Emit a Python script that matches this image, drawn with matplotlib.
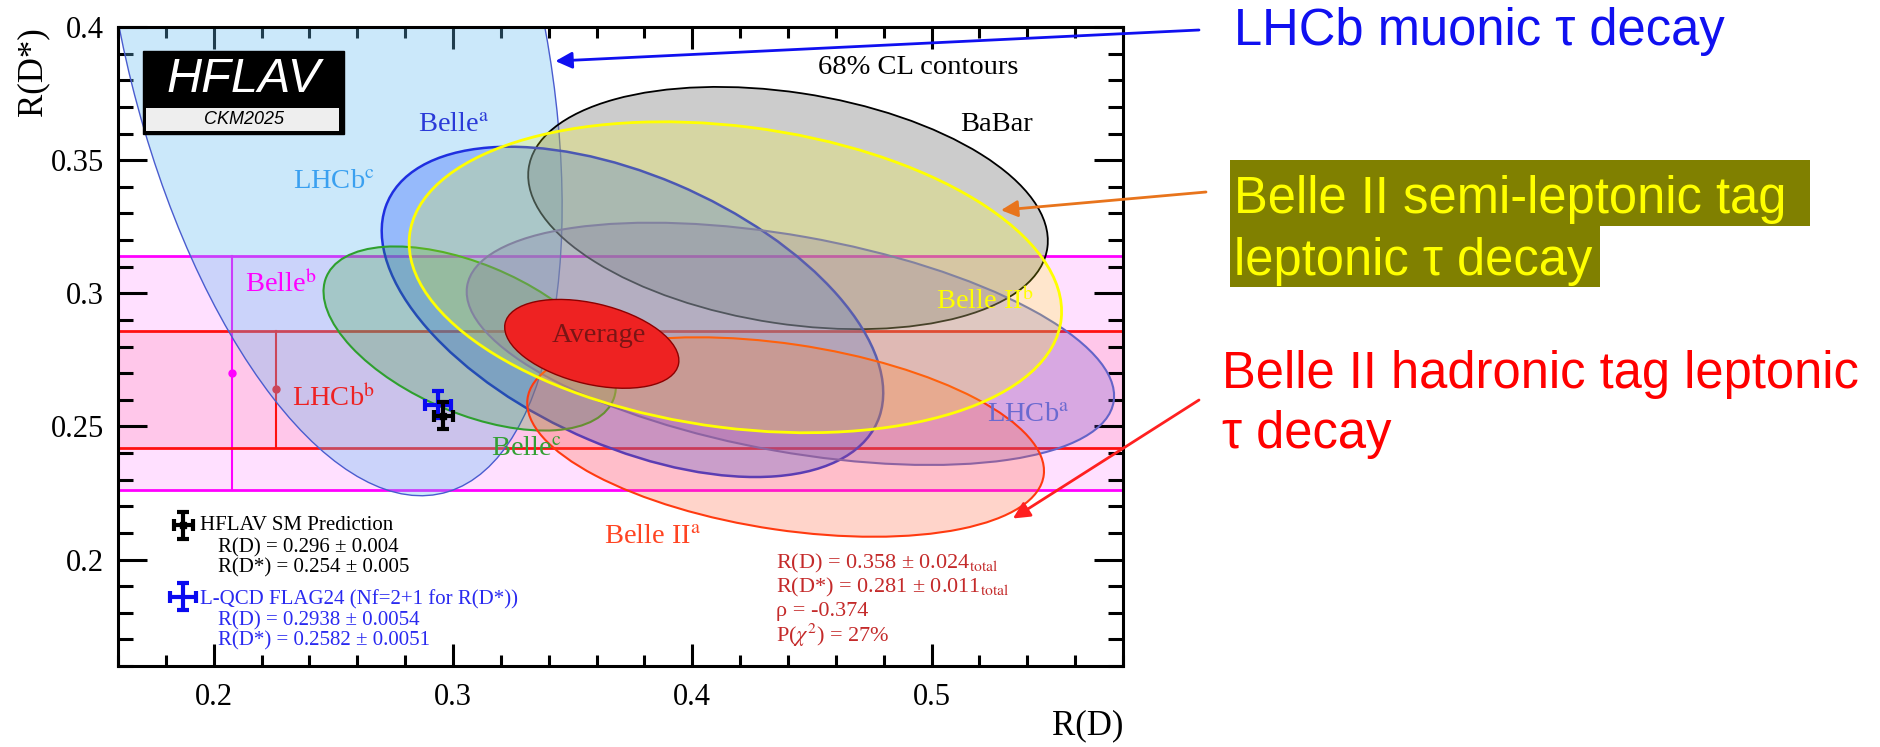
import numpy as np
import matplotlib
matplotlib.use('Agg')
import matplotlib.pyplot as plt
from matplotlib.patches import Ellipse, Rectangle
from matplotlib.ticker import MultipleLocator, FuncFormatter

plt.rcParams['font.family'] = ['Liberation Serif', 'DejaVu Serif']
plt.rcParams['mathtext.fontset'] = 'stix'

# 2D measurements: R(D), R(D*) with total errors and correlation
names = ['BaBar', 'Belle$^{\\rm a}$', 'Belle$^{\\rm c}$', 'LHCb$^{\\rm a}$',
         'LHCb$^{\\rm c}$', 'Belle II$^{\\rm a}$', 'Belle II$^{\\rm b}$']
rd = [0.440, 0.375, 0.307, 0.441, 0.249, 0.439, 0.418]
rd_err = [0.0716, 0.0691, 0.0403, 0.0892, 0.0637, 0.0712, 0.0899]
rds = [0.332, 0.293, 0.283, 0.281, 0.402, 0.246, 0.306]
rds_err = [0.0300, 0.0409, 0.0228, 0.0300, 0.1174, 0.0247, 0.0385]
rho = [-0.27, -0.49, -0.51, -0.43, -0.39, -0.34, -0.22]

# R(D*)-only measurements, drawn as bands
band_names = ['Belle$^{\\rm b}$', 'LHCb$^{\\rm b}$']
band_rds = [0.270, 0.264]
band_err = [0.044, 0.022]

# average
avg_rd, avg_rd_err = 0.358, 0.024
avg_rds, avg_rds_err = 0.281, 0.011
avg_rho = -0.374
avg_prob = 27

# SM predictions
sm_rd, sm_rd_err, sm_rds, sm_rds_err = 0.296, 0.004, 0.254, 0.005
lq_rd, lq_rd_err, lq_rds, lq_rds_err = 0.2938, 0.0054, 0.2582, 0.0051

K68 = np.sqrt(2.30)  # 68% CL, 2 dof

W, H = 1881, 747
fig = plt.figure(figsize=(W / 100, H / 100), dpi=100)


def fx(px):
    return px / W


def fy(py):
    return 1 - py / H


ax = fig.add_axes([fx(118), fy(666), (1123 - 118) / W, (666 - 27) / H])
ax.set_xlim(0.16, 0.58)
ax.set_ylim(0.16, 0.40)


def contour(x, sx, y, sy, r, **kw):
    cov = np.array([[sx**2, r * sx * sy], [r * sx * sy, sy**2]])
    vals, vecs = np.linalg.eigh(cov)
    ang = np.degrees(np.arctan2(vecs[1, 1], vecs[0, 1]))
    e = Ellipse((x, y), 2 * K68 * np.sqrt(vals[1]), 2 * K68 * np.sqrt(vals[0]),
                angle=ang, **kw)
    ax.add_patch(e)


# bands
band_fill = [(1, 0, 1, 0.12), (1, 0.23, 0.47, 0.15)]
band_line = ['#FF00FF', '#FF1010']
band_xpos = [0.2075, 0.226]
for v, err, fc, lc, xp in zip(band_rds, band_err, band_fill, band_line, band_xpos):
    ax.axhspan(v - err, v + err, color=fc, lw=0, zorder=1)
    ax.axhline(v - err, color=lc, lw=2, zorder=2)
    ax.axhline(v + err, color=lc, lw=2, zorder=2)
    ax.plot([xp, xp], [v - err, v + err], color=lc, lw=1.5, zorder=2)
    ax.plot(xp, v, 'o', color=lc, ms=5, zorder=2)

# 2D contours
face = [(0.5, 0.5, 0.5, 0.4), (0.2, 0.4, 1.0, 0.35), (0.2, 0.65, 0.2, 0.25),
        (0.4, 0.3, 0.8, 0.25), (0.39, 0.73, 0.94, 0.33), (1.0, 0.39, 0.24, 0.27),
        (1.0, 1.0, 0.0, 0.2)]
edge = ['black', '#1F2FE0', '#2EA02E', '#6464C8', '#4A5CCF', '#FF3A10', '#FFFF00']
lws = [1.3, 1.8, 1.5, 1.5, 1.0, 1.5, 2.0]
zs = [4, 4, 4, 4, 3, 4, 4]
for i in range(len(rd)):
    contour(rd[i], rd_err[i], rds[i], rds_err[i], rho[i],
            facecolor=face[i], edgecolor=edge[i], lw=lws[i], zorder=zs[i])

contour(avg_rd, avg_rd_err, avg_rds, avg_rds_err, avg_rho,
        facecolor='#EE2222', edgecolor='#8B0000', lw=1, zorder=5)

# SM points
eb = dict(elinewidth=3, capsize=4.5, capthick=3)
ax.errorbar(lq_rd, lq_rds, xerr=lq_rd_err, yerr=lq_rds_err, fmt='none', color='#0A0AF0',
            zorder=6, **eb)
ax.errorbar(sm_rd, sm_rds, xerr=sm_rd_err, yerr=sm_rds_err, fmt='s', color='black',
            ms=4, zorder=7, **eb)

# labels
lab_fs = 20.5
label_pos = [(0.512, 0.3635), (0.2854, 0.3635), (0.316, 0.2417), (0.5233, 0.2545),
             (0.233, 0.342), (0.363, 0.2087), (0.5017, 0.297)]
label_col = ['black', '#2A3AD8', '#33A033', '#6A6AD0', '#3AA0F0', '#FF4422', '#FFFF00']
for n, (lx, ly), c in zip(names, label_pos, label_col):
    ax.text(lx, ly, n, color=c, fontsize=lab_fs, va='center', ha='left', zorder=7)
band_lab_pos = [(0.2132, 0.3034), (0.2326, 0.2606)]
for n, (lx, ly), c in zip(band_names, band_lab_pos, ['#FF00FF', '#EE2222']):
    ax.text(lx, ly, n, color=c, fontsize=lab_fs, va='center', ha='left', zorder=7)

ax.text(0.361, 0.2840, 'Average', color='#7A1515', fontsize=lab_fs, ha='center',
        va='center', zorder=7)
ax.text(0.4945, 0.3847, '68% CL contours', fontsize=lab_fs, ha='center', va='center')

# legend for predictions
ax.errorbar(0.1873, 0.2128, xerr=sm_rd_err, yerr=sm_rds_err, fmt='s', color='black',
            ms=4, **eb)
ax.text(0.1944, 0.2128, 'HFLAV SM Prediction', fontsize=15, va='center')
ax.text(0.2018, 0.2043, f'R(D) = {sm_rd:.3f} ± {sm_rd_err:.3f}', fontsize=15, va='center')
ax.text(0.2018, 0.1967, f'R(D*) = {sm_rds:.3f} ± {sm_rds_err:.3f}', fontsize=15, va='center')
ax.errorbar(0.1873, 0.1860, xerr=lq_rd_err, yerr=lq_rds_err, fmt='none', color='#0A0AF0',
            **eb)
ax.text(0.1944, 0.1850, 'L-QCD FLAG24 (Nf=2+1 for R(D*))', fontsize=15, va='center',
        color='#2A2AF0')
ax.text(0.2018, 0.1770, f'R(D) = {lq_rd:.4f} ± {lq_rd_err:.4f}', fontsize=15,
        va='center', color='#2A2AF0')
ax.text(0.2018, 0.1695, f'R(D*) = {lq_rds:.4f} ± {lq_rds_err:.4f}', fontsize=15,
        va='center', color='#2A2AF0')

# fit result
avg_col = '#C42A2A'
ax.text(0.435, 0.1986, f'R(D) = {avg_rd:.3f} ± {avg_rd_err:.3f}' + '$_{\\rm total}$',
        fontsize=16, va='center', color=avg_col)
ax.text(0.435, 0.1895, f'R(D*) = {avg_rds:.3f} ± {avg_rds_err:.3f}' + '$_{\\rm total}$',
        fontsize=16, va='center', color=avg_col)
ax.text(0.435, 0.1805, f'ρ = {avg_rho:.3f}', fontsize=16, va='center', color=avg_col)
ax.text(0.435, 0.1714, 'P($\\chi^2$) = ' + f'{avg_prob}%', fontsize=16, va='center',
        color=avg_col)

# HFLAV logo
ax.add_patch(Rectangle((0.0249, 0.8326), 0.200, 0.1298, transform=ax.transAxes,
                       facecolor='black', edgecolor='black', zorder=8))
ax.add_patch(Rectangle((0.0279, 0.8372), 0.192, 0.036, transform=ax.transAxes,
                       facecolor='#EEEEEE', edgecolor='none', zorder=9))
ax.text(0.125, 0.918, 'HFLAV', transform=ax.transAxes, color='white', fontsize=35,
        family='Liberation Sans', style='italic', ha='center', va='center', zorder=9)
ax.text(0.125, 0.855, 'CKM2025', transform=ax.transAxes, color='black', fontsize=13,
        family='Liberation Sans', style='italic', ha='center', va='center', zorder=10)

# axes styling
ax.xaxis.set_major_locator(MultipleLocator(0.1))
ax.xaxis.set_minor_locator(MultipleLocator(0.02))
ax.yaxis.set_major_locator(MultipleLocator(0.05))
ax.yaxis.set_minor_locator(MultipleLocator(0.01))
fmt = FuncFormatter(lambda v, p: f'{v:g}')
ax.xaxis.set_major_formatter(fmt)
ax.yaxis.set_major_formatter(fmt)
ax.tick_params(which='both', direction='in', top=True, right=True, width=2.2,
               labelsize=22)
ax.tick_params(axis='x', which='major', length=16, pad=12)
ax.tick_params(axis='x', which='minor', length=8)
ax.tick_params(axis='y', which='major', length=21, pad=10)
ax.tick_params(axis='y', which='minor', length=10.5)
for s in ax.spines.values():
    s.set_linewidth(2.2)
    s.set_zorder(10)

fig.text(fx(1123), fy(726), 'R(D)', fontsize=25, ha='right', va='center')
fig.text(fx(33), fy(27), 'R(D*)', fontsize=25, ha='center', va='top', rotation=90)

# annotations on the right
sans = 'Liberation Sans'
fig.text(fx(1234), fy(45), 'LHCb muonic τ decay', fontsize=36.5, family=sans,
         color='#1010F0', va='baseline')
fig.add_artist(Rectangle((fx(1230), fy(226)), (1810 - 1230) / W, 66 / H,
                         transform=fig.transFigure, facecolor='#808000', edgecolor='none'))
fig.add_artist(Rectangle((fx(1230), fy(287)), (1600 - 1230) / W, 62 / H,
                         transform=fig.transFigure, facecolor='#808000', edgecolor='none'))
fig.text(fx(1234), fy(213), 'Belle II semi-leptonic tag', fontsize=36.5, family=sans,
         color='#FFFF00', va='baseline')
fig.text(fx(1234), fy(275), 'leptonic τ decay', fontsize=36.5, family=sans,
         color='#FFFF00', va='baseline')
fig.text(fx(1222), fy(388), 'Belle II hadronic tag leptonic', fontsize=36.5, family=sans,
         color='#FF0000', va='baseline')
fig.text(fx(1222), fy(448), 'τ decay', fontsize=36.5, family=sans,
         color='#FF0000', va='baseline')

arrows = [((0.3428, 0.3872), (1199, 30), '#1010F0'),
          ((0.529, 0.3312), (1206, 192), '#E8741C'),
          ((0.534, 0.2154), (1199, 400), '#FF2020')]
for tip, (px, py), c in arrows:
    ax.annotate('', xy=tip, xytext=(fx(px), fy(py)), textcoords='figure fraction',
                arrowprops=dict(arrowstyle='-|>', color=c, lw=2, mutation_scale=25,
                                shrinkA=0, shrinkB=0),
                annotation_clip=False, zorder=11)

fig.savefig('out.png', dpi=100)
